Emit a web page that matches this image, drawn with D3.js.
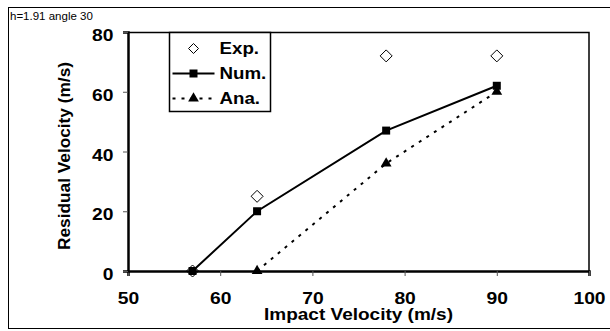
<!DOCTYPE html>
<html>
<head>
<meta charset="utf-8">
<script src="https://cdn.jsdelivr.net/npm/d3@7"></script>
<style>
  body { margin: 0; background: #fff; }
  text { font-family: "Liberation Sans", Arial, sans-serif; }
  .tick text { font-weight: bold; font-size: 16.5px; fill: #000; }
</style>
</head>
<body>
<div id="chart"></div>
<script>
// data
const expX = [57, 64, 78, 90];
const expY = [0, 25, 72, 72];
const numX = [57, 64, 78, 90];
const numY = [0, 20, 47, 62];
const anaX = [64, 78, 90];
const anaY = [0, 36, 60];
const xTicks = [50, 60, 70, 80, 90, 100];
const yTicks = [0, 20, 40, 60, 80];

const W = 610, H = 331;
const margin = { top: 32, left: 128, right: 21, bottom: 60 };
const width = W - margin.left - margin.right;
const height = H - margin.top - margin.bottom;
const S = 1.17; // the original is stretched sideways a bit

const svg = d3.select("#chart").append("svg").attr("width", W).attr("height", H);

// outer frame
svg.append("rect")
  .attr("x", 8.5).attr("y", 7.5).attr("width", 610).attr("height", 321)
  .attr("fill", "none").attr("stroke", "#000").attr("stroke-width", 1);

svg.append("text")
  .attr("x", 10).attr("y", 20)
  .attr("font-size", 11.5)
  .text("h=1.91 angle 30");

const g = svg.append("g").attr("transform", `translate(${margin.left}, ${margin.top})`);

const x = d3.scaleLinear().domain([50, 100]).range([0, width]);
const y = d3.scaleLinear().domain([0, 80]).range([height, 0]);

// plot frame (top + right)
g.append("path")
  .attr("d", `M0,0.5 H${width} V${height}`)
  .attr("fill", "none").attr("stroke", "#000").attr("stroke-width", 1.5);

const xAxis = g.append("g")
  .attr("transform", `translate(0, ${height})`)
  .call(d3.axisBottom(x).tickValues(xTicks).tickSize(5));
xAxis.select(".domain").attr("stroke-width", 2.5);
xAxis.selectAll(".tick line").attr("stroke", "#555");
xAxis.selectAll(".tick text")
  .attr("y", 33).attr("dy", 0)
  .attr("transform", `scale(${S},1)`);

const yAxis = g.append("g")
  .call(d3.axisLeft(y).tickValues(yTicks).tickSize(5));
yAxis.select(".domain").attr("stroke-width", 2.5);
yAxis.selectAll(".tick line").attr("stroke", "#555");
yAxis.selectAll(".tick text")
  .attr("x", -14.5 / S).attr("y", 8.5).attr("dy", 0)
  .attr("transform", `scale(${S},1)`);

// axis titles
svg.append("text")
  .attr("x", 264).attr("y", 319.5)
  .attr("font-size", 16.5).attr("font-weight", "bold")
  .attr("textLength", 189).attr("lengthAdjust", "spacingAndGlyphs")
  .text("Impact Velocity (m/s)");

svg.append("text")
  .attr("transform", `translate(70, 250) rotate(-90)`)
  .attr("font-size", 17).attr("font-weight", "bold")
  .attr("textLength", 188).attr("lengthAdjust", "spacingAndGlyphs")
  .text("Residual Velocity (m/s)");

const line = d3.line().x((d) => x(d[0])).y((d) => y(d[1]));
const numPts = numX.map((v, i) => [v, numY[i]]);
const anaPts = anaX.map((v, i) => [v, anaY[i]]);
const expPts = expX.map((v, i) => [v, expY[i]]);

g.append("path").attr("d", line(anaPts))
  .attr("fill", "none").attr("stroke", "#000").attr("stroke-width", 2)
  .attr("stroke-dasharray", "3,6");

g.append("path").attr("d", line(numPts))
  .attr("fill", "none").attr("stroke", "#000").attr("stroke-width", 2);

const square = d3.symbol().type(d3.symbolSquare).size(64);
const triangle = d3.symbol().type(d3.symbolTriangle).size(50);
const diamond = (s) => `M0,${-s} L${s},0 L0,${s} L${-s},0 Z`;

g.selectAll(".ana").data(anaPts).join("path")
  .attr("class", "ana")
  .attr("transform", (d) => `translate(${x(d[0])}, ${y(d[1])})`)
  .attr("d", triangle).attr("fill", "#000");

g.selectAll(".num").data(numPts).join("path")
  .attr("class", "num")
  .attr("transform", (d) => `translate(${x(d[0])}, ${y(d[1])})`)
  .attr("d", square).attr("fill", "#000");

g.selectAll(".exp").data(expPts).join("path")
  .attr("class", "exp")
  .attr("transform", (d) => `translate(${x(d[0])}, ${y(d[1])})`)
  .attr("d", diamond(6)).attr("fill", "none").attr("stroke", "#000").attr("stroke-width", 1);

// legend
const legend = svg.append("g").attr("transform", "translate(169.5, 32.5)");
legend.append("rect").attr("width", 101).attr("height", 79)
  .attr("fill", "#fff").attr("stroke", "#000").attr("stroke-width", 1.5);

const items = [
  { label: "Exp.", y: 16, kind: "exp" },
  { label: "Num.", y: 41, kind: "num" },
  { label: "Ana.", y: 66, kind: "ana" },
];
items.forEach((it) => {
  const row = legend.append("g").attr("transform", `translate(0, ${it.y})`);
  if (it.kind === "num") {
    row.append("line").attr("x1", 3).attr("x2", 45).attr("stroke", "#000").attr("stroke-width", 2);
    row.append("path").attr("transform", "translate(24,0)").attr("d", square).attr("fill", "#000");
  } else if (it.kind === "ana") {
    row.append("line").attr("x1", 3).attr("x2", 45).attr("stroke", "#000").attr("stroke-width", 2)
      .attr("stroke-dasharray", "3,6");
    row.append("path").attr("transform", "translate(24,0)").attr("d", triangle).attr("fill", "#000");
  } else {
    row.append("path").attr("transform", "translate(24,0)").attr("d", diamond(5))
      .attr("fill", "none").attr("stroke", "#000");
  }
  row.append("text").attr("x", 50 / S).attr("dy", "0.36em")
    .attr("transform", `scale(${S},1)`)
    .attr("font-size", 16).attr("font-weight", "bold").text(it.label);
});
</script>
</body>
</html>
